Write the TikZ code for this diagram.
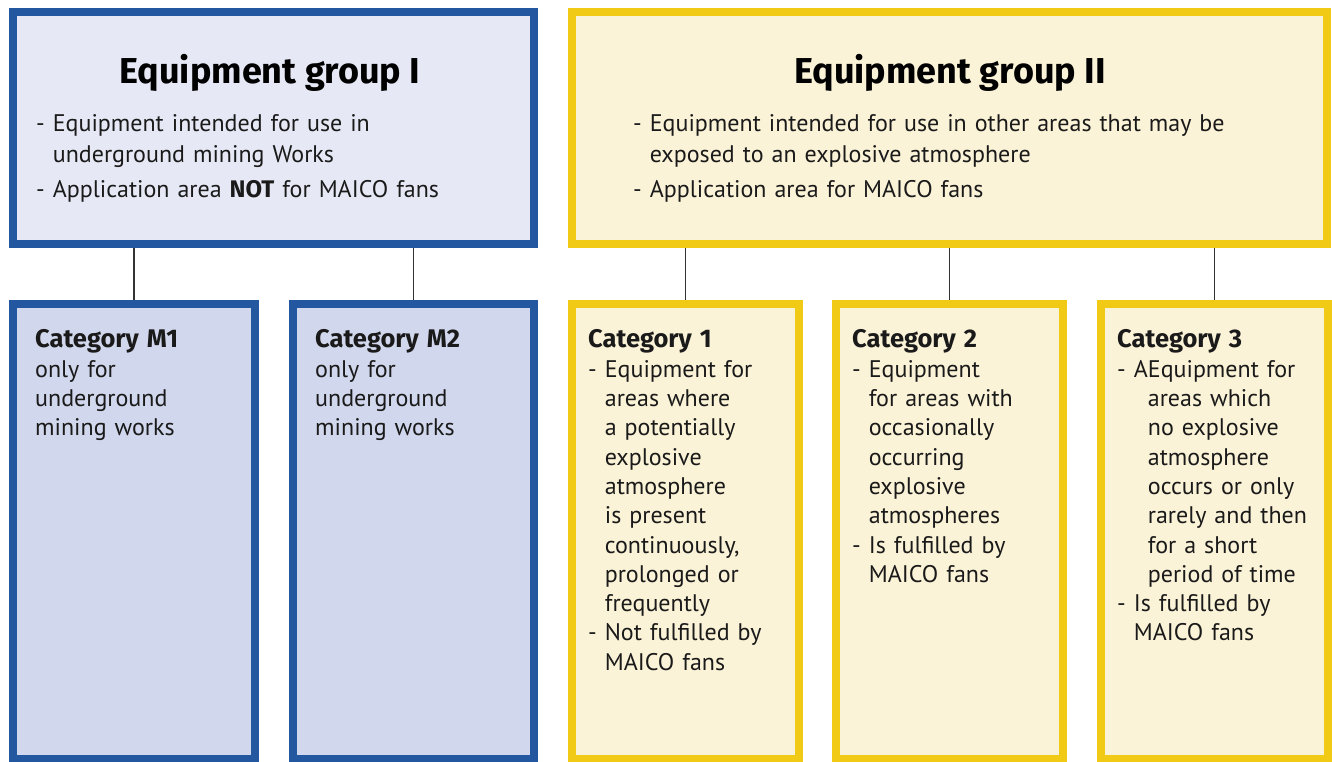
\documentclass[tikz,border=0pt]{standalone}
\usepackage{fontspec}
\setmainfont{PT Sans}[BoldFont={Fira Sans Bold}]
\usetikzlibrary{%
  positioning% wg. " of "
}
\definecolor{grpblue}{HTML}{2357A0}
\definecolor{grpyellow}{HTML}{F0CA14}
\definecolor{lightblue}{HTML}{E6E9F5}
\definecolor{catblue}{HTML}{D1D7EC}
\definecolor{lightyellow}{HTML}{FBF3D7}
\definecolor{inktext}{HTML}{1A1A1A}
\tikzset{
  grpbox/.style={rectangle,line width=8pt,inner sep=0pt,minimum height=232pt},
  catbox/.style={rectangle,line width=8pt,inner sep=0pt,minimum height=455pt},
  grptitle/.style={anchor=base,inner sep=0pt,text=black,font=\fontsize{36}{40}\bfseries\selectfont},
  grptext/.style={anchor=base west,inner sep=0pt,text width=640pt,align=left,text=inktext,
    font=\fontsize{24}{31}\selectfont},
  cattext/.style={anchor=base west,inner sep=0pt,text width=210pt,align=left,text=inktext,
    font=\fontsize{24}{29.3}\selectfont},
  conn/.style={line width=1.3pt,draw=black!80}
}
\newcommand{\hang}{\hphantom{- }}
\newcommand{\cathd}[1]{{\fontsize{25.5}{29.3}\bfseries\selectfont #1}}
\begin{document}
\begin{tikzpicture}[x=1pt,y=1pt,node distance=30pt]
    \useasboundingbox (0,0) rectangle (1332,761);

    %group boxes
    \node[grpbox,draw=grpblue,fill=lightblue,minimum width=521pt,anchor=north west] (grpI) at (9,753) {};
    \node[grpbox,draw=grpyellow,fill=lightyellow,minimum width=755pt] (grpII) [right =of grpI] {};

    %category boxes
    \node[catbox,draw=grpblue,fill=catblue,minimum width=242pt,anchor=north west] (m1) at (9,461) {};
    \node[catbox,draw=grpblue,fill=catblue,minimum width=241pt] (m2) [right =of m1] {};
    \node[catbox,draw=grpyellow,fill=lightyellow,minimum width=227pt] (cat1) [right =of m2] {};
    \node[catbox,draw=grpyellow,fill=lightyellow,minimum width=227pt] (cat2) [right =29pt of cat1] {};
    \node[catbox,draw=grpyellow,fill=lightyellow,minimum width=227pt] (cat3) [right =of cat2] {};

    %connectors
    \draw[conn] (grpI.south -| m1.north) -- (m1.north);
    \draw[conn] (grpI.south -| m2.north) -- (m2.north);
    \draw[conn] (grpII.south -| cat1.north) -- (cat1.north);
    \draw[conn] (grpII.south -| cat2.north) -- (cat2.north);
    \draw[conn] (grpII.south -| cat3.north) -- (cat3.north);

    %group texts
    \node[grptitle] (titleI) at (270,677) {Equipment group I};
    \node[grptitle] (titleII) at (950,677) {Equipment group II};
    \node[grptext] (textI) at (36,629) {- Equipment intended for use in\\
      \hang underground mining Works\\[4pt]
      - Application area \textbf{NOT} for MAICO fans};
    \node[grptext] (textII) at (633,629) {- Equipment intended for use in other areas that may be\\
      \hang exposed to an explosive atmosphere\\[4pt]
      - Application area for MAICO fans};

    %category texts
    \node[cattext] (textm1) at (35,413) {\cathd{Category M1}\\
      only for\\ underground\\ mining works};
    \node[cattext] (textm2) at (315,413) {\cathd{Category M2}\\
      only for\\ underground\\ mining works};
    \node[cattext] (text1) at (588,413) {\cathd{Category 1}\\
      - Equipment for\\ \hang areas where\\ \hang a potentially\\
      \hang explosive\\ \hang atmosphere\\ \hang is present\\
      \hang continuously,\\ \hang prolonged or\\ \hang frequently\\
      - Not fulfilled by\\ \hang MAICO fans};
    \node[cattext] (text2) at (852,413) {\cathd{Category 2}\\
      - Equipment\\ \hang for areas with\\ \hang occasionally\\
      \hang occurring\\ \hang explosive\\ \hang atmospheres\\
      - Is fulfilled by\\ \hang MAICO fans};
    \node[cattext] (text3) at (1117,413) {\cathd{Category 3}\\
      - AEquipment for\\ \hphantom{- A}areas which\\ \hphantom{- A}no explosive\\
      \hphantom{- A}atmosphere\\ \hphantom{- A}occurs or only\\
      \hphantom{- A}rarely and then\\ \hphantom{- A}for a short\\
      \hphantom{- A}period of time\\
      - Is fulfilled by\\ \hang MAICO fans};
\end{tikzpicture}
\end{document}
